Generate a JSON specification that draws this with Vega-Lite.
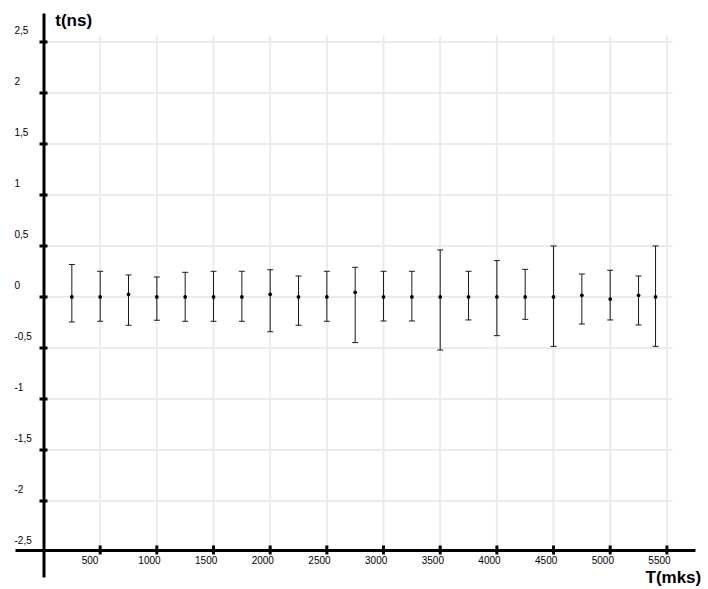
{
  "$schema": "https://vega.github.io/schema/vega-lite/v6.json",
  "width": 680,
  "height": 564,
  "autosize": {"type": "none"},
  "padding": {"left": 15, "top": 13, "right": 13, "bottom": 12},
  "background": "white",
  "config": {"view": {"stroke": null}, "font": "Liberation Sans"},
  "datasets": {
    "meas": [
      {"T": 250, "t": 0, "lo": -0.245, "hi": 0.318},
      {"T": 500, "t": 0, "lo": -0.238, "hi": 0.252},
      {"T": 750, "t": 0.026, "lo": -0.277, "hi": 0.216},
      {"T": 1000, "t": 0, "lo": -0.228, "hi": 0.196},
      {"T": 1250, "t": 0, "lo": -0.238, "hi": 0.242},
      {"T": 1500, "t": 0, "lo": -0.238, "hi": 0.252},
      {"T": 1750, "t": 0, "lo": -0.238, "hi": 0.252},
      {"T": 2000, "t": 0.026, "lo": -0.34, "hi": 0.268},
      {"T": 2250, "t": 0, "lo": -0.277, "hi": 0.206},
      {"T": 2500, "t": 0, "lo": -0.238, "hi": 0.252},
      {"T": 2750, "t": 0.046, "lo": -0.447, "hi": 0.291},
      {"T": 3000, "t": 0, "lo": -0.235, "hi": 0.252},
      {"T": 3250, "t": 0, "lo": -0.235, "hi": 0.252},
      {"T": 3500, "t": 0, "lo": -0.52, "hi": 0.461},
      {"T": 3750, "t": 0, "lo": -0.225, "hi": 0.252},
      {"T": 4000, "t": 0, "lo": -0.379, "hi": 0.357},
      {"T": 4250, "t": 0, "lo": -0.219, "hi": 0.271},
      {"T": 4500, "t": 0, "lo": -0.484, "hi": 0.5},
      {"T": 4750, "t": 0.017, "lo": -0.265, "hi": 0.225},
      {"T": 5000, "t": -0.02, "lo": -0.225, "hi": 0.262},
      {"T": 5250, "t": 0.017, "lo": -0.274, "hi": 0.206},
      {"T": 5400, "t": 0, "lo": -0.484, "hi": 0.5}
    ],
    "ygrid": [
      {"t": 2.5}, {"t": 2}, {"t": 1.5}, {"t": 1}, {"t": 0.5}, {"t": 0},
      {"t": -0.5}, {"t": -1}, {"t": -1.5}, {"t": -2}
    ],
    "xgrid": [
      {"T": 500}, {"T": 1000}, {"T": 1500}, {"T": 2000}, {"T": 2500}, {"T": 3000},
      {"T": 3500}, {"T": 4000}, {"T": 4500}, {"T": 5000}, {"T": 5500}
    ]
  },
  "layer": [
    {
      "data": {"name": "ygrid"},
      "mark": {"type": "rule", "color": "#ebebeb", "strokeWidth": 2},
      "encoding": {
        "y": {"field": "t", "type": "quantitative", "scale": {"domain": [-2.745, 2.784], "nice": false, "zero": false}},
        "x": {"datum": 0, "type": "quantitative", "scale": {"domain": [-251.5, 5748.2], "nice": false, "zero": false}},
        "x2": {"datum": 5550}
      }
    },
    {
      "data": {"name": "xgrid"},
      "mark": {"type": "rule", "color": "#ebebeb", "strokeWidth": 2},
      "encoding": {
        "x": {"field": "T", "type": "quantitative", "scale": {"domain": [-251.5, 5748.2], "nice": false, "zero": false}},
        "y": {"datum": 2.56, "type": "quantitative", "scale": {"domain": [-2.745, 2.784], "nice": false, "zero": false}},
        "y2": {"datum": -2.48}
      }
    },
    {
      "data": {"name": "ygrid"},
      "mark": {"type": "tick", "orient": "horizontal", "size": 8, "thickness": 3, "color": "black", "opacity": 1},
      "encoding": {
        "y": {"field": "t", "type": "quantitative", "scale": {"domain": [-2.745, 2.784], "nice": false, "zero": false}},
        "x": {"datum": 0, "type": "quantitative", "scale": {"domain": [-251.5, 5748.2], "nice": false, "zero": false}}
      }
    },
    {
      "data": {"name": "xgrid"},
      "mark": {"type": "tick", "orient": "vertical", "size": 9, "thickness": 3, "color": "black", "opacity": 1},
      "encoding": {
        "x": {"field": "T", "type": "quantitative", "scale": {"domain": [-251.5, 5748.2], "nice": false, "zero": false}},
        "y": {"datum": -2.48, "type": "quantitative", "scale": {"domain": [-2.745, 2.784], "nice": false, "zero": false}}
      }
    },
    {
      "data": {"name": "meas"},
      "mark": {"type": "rule", "color": "#1a1a1a", "strokeWidth": 1},
      "encoding": {
        "x": {
          "field": "T", "type": "quantitative",
          "scale": {"domain": [-251.5, 5748.2], "nice": false, "zero": false},
          "axis": {
            "orient": "bottom", "offset": -27,
            "values": [500, 1000, 1500, 2000, 2500, 3000, 3500, 4000, 4500, 5000, 5500],
            "grid": false, "ticks": false, "tickSize": 0,
            "domain": true, "domainColor": "black", "domainWidth": 3,
            "labelAlign": "left", "labelBaseline": "alphabetic", "labelPadding": 13.3, "labelOffset": -19,
            "labelFont": "Liberation Sans", "labelFontSize": 10, "labelColor": "black",
            "labelExpr": "toString(datum.value)",
            "labelOverlap": false, "labelBound": false, "labelFlush": false,
            "title": "T(mks)", "titleAlign": "left", "titleBaseline": "alphabetic", "titleAngle": 0,
            "titleX": 630, "titleY": 32.3,
            "titleFont": "Liberation Sans", "titleFontSize": 17, "titleFontWeight": "bold", "titleColor": "black",
            "zindex": 1
          }
        },
        "y": {
          "field": "lo", "type": "quantitative",
          "scale": {"domain": [-2.745, 2.784], "nice": false, "zero": false},
          "axis": {
            "orient": "left", "offset": -28.5,
            "values": [-2.5, -2, -1.5, -1, -0.5, 0, 0.5, 1, 1.5, 2, 2.5],
            "grid": false, "ticks": false, "tickSize": 0,
            "domain": true, "domainColor": "black", "domainWidth": 3,
            "labelAlign": "left", "labelBaseline": "alphabetic", "labelPadding": 29.5, "labelOffset": -8.7,
            "labelFont": "Liberation Sans", "labelFontSize": 10, "labelColor": "black",
            "labelExpr": "replace(toString(datum.value), '.', ',')",
            "labelOverlap": false, "labelBound": false, "labelFlush": false,
            "title": "t(ns)", "titleAlign": "left", "titleBaseline": "alphabetic", "titleAngle": 0,
            "titleX": 11.3, "titleY": 12.7,
            "titleFont": "Liberation Sans", "titleFontSize": 17, "titleFontWeight": "bold", "titleColor": "black",
            "zindex": 1,
            "encode": {"labels": {"update": {"dx": {"signal": "datum.value >= 0 ? 3 : 0"}}}}
          }
        },
        "y2": {"field": "hi"}
      }
    },
    {
      "data": {"name": "meas"},
      "mark": {"type": "tick", "orient": "horizontal", "size": 6, "thickness": 1, "color": "#1a1a1a", "opacity": 1},
      "encoding": {
        "x": {"field": "T", "type": "quantitative", "scale": {"domain": [-251.5, 5748.2], "nice": false, "zero": false}},
        "y": {"field": "lo", "type": "quantitative", "scale": {"domain": [-2.745, 2.784], "nice": false, "zero": false}}
      }
    },
    {
      "data": {"name": "meas"},
      "mark": {"type": "tick", "orient": "horizontal", "size": 6, "thickness": 1, "color": "#1a1a1a", "opacity": 1},
      "encoding": {
        "x": {"field": "T", "type": "quantitative", "scale": {"domain": [-251.5, 5748.2], "nice": false, "zero": false}},
        "y": {"field": "hi", "type": "quantitative", "scale": {"domain": [-2.745, 2.784], "nice": false, "zero": false}}
      }
    },
    {
      "data": {"name": "meas"},
      "mark": {"type": "circle", "size": 14, "color": "black", "opacity": 1},
      "encoding": {
        "x": {"field": "T", "type": "quantitative", "scale": {"domain": [-251.5, 5748.2], "nice": false, "zero": false}},
        "y": {"field": "t", "type": "quantitative", "scale": {"domain": [-2.745, 2.784], "nice": false, "zero": false}}
      }
    }
  ]
}
